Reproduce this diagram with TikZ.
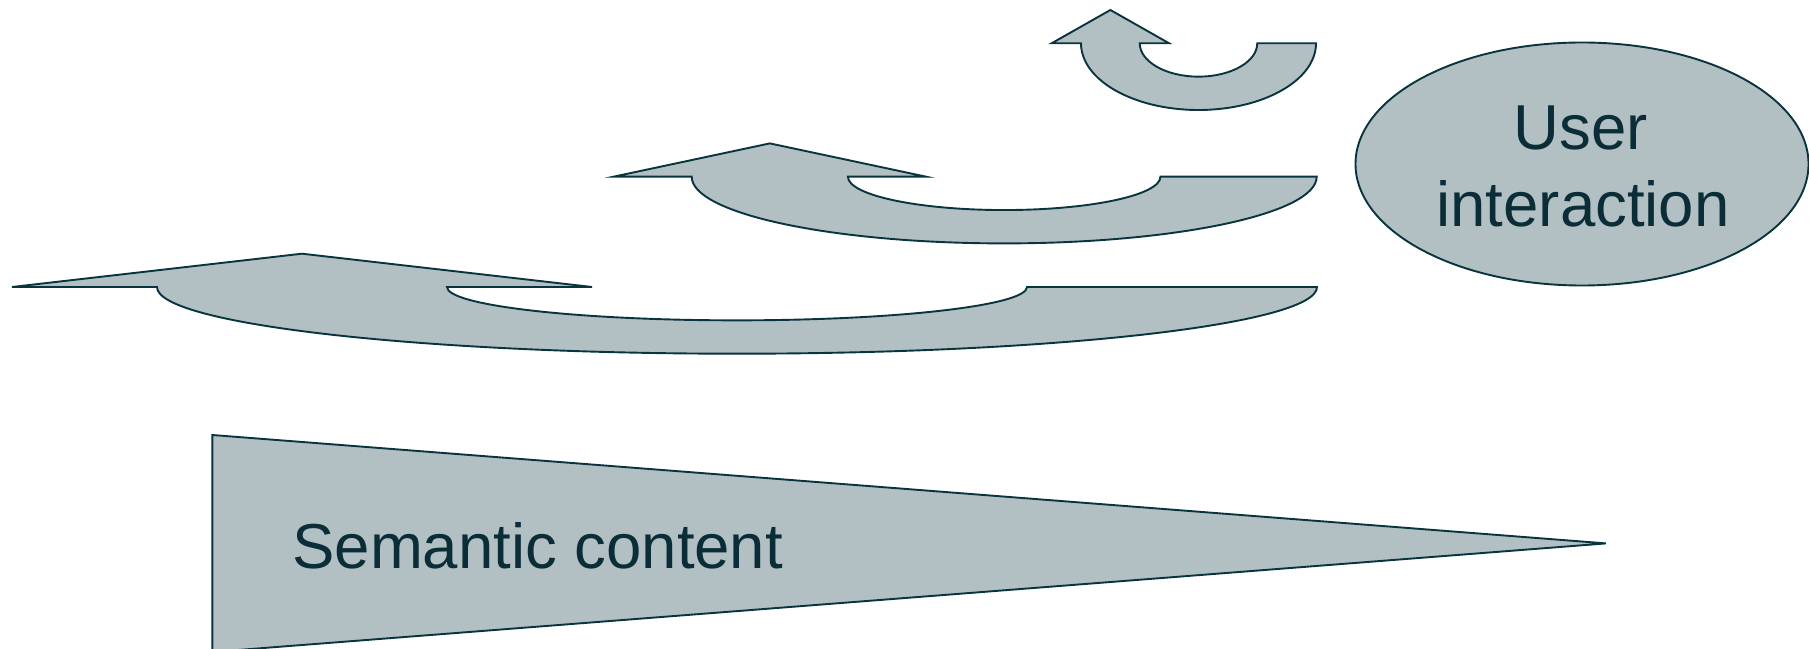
\documentclass[tikz,border=0pt]{standalone}
\usepackage{fontspec}
\setmainfont{Liberation Sans}
\usetikzlibrary{shapes.geometric}
\definecolor{shapefill}{RGB}{178,192,196}
\definecolor{shapeline}{RGB}{8,52,62}
\definecolor{labeltext}{RGB}{10,45,55}
\tikzset{
  shapestyle/.style={fill=shapefill, draw=shapeline, line width=0.95pt, line join=miter},
  labelstyle/.style={text=labeltext, inner sep=0pt, font=\fontsize{31.75}{38.35}\selectfont},
}
% curved arrow: #1 right x, #2 base y, #3 outer x radius
\newcommand{\uarrow}[3]{%
  \pgfmathsetmacro{\ucx}{#1-#3}%
  \path[shapestyle] (\ucx-1.25*#3, #2) -- (\ucx-0.75*#3, #2+33.3) -- (\ucx-0.25*#3, #2)
    -- (\ucx-0.5*#3, #2)
    arc[start angle=180, end angle=360, x radius=0.5*#3, y radius=33.35]
    -- (#1, #2)
    arc[start angle=0, end angle=-180, x radius=#3, y radius=66.7]
    -- cycle;
}
\begin{document}
\begin{tikzpicture}[x=0.5pt, y=0.5pt]
  \useasboundingbox (0,0) rectangle (1809,648);
  \fill[white] (0,0) rectangle (1809,648);
  \clip (0,0) rectangle (1809,648);
  % three curved arrows
  \uarrow{1316}{604.7}{117.5}
  \uarrow{1316.7}{471.3}{312.5}
  \uarrow{1317}{361}{580}
  % user interaction ellipse
  \draw[shapestyle] (1582,484) ellipse [x radius=226.5, y radius=121.5];
  \node[labelstyle, anchor=base] (uiA) at (1581,498) {User};
  \node[labelstyle, anchor=base] (uiB) at (1583,421.3) {interaction};
  % semantic content wedge
  \draw[shapestyle] (212.3,213) -- (1606,104.6) -- (212.3,-4) -- cycle;
  \node[labelstyle, anchor=base west] (sc) at (292,79.2) {Semantic content};
\end{tikzpicture}
\end{document}
